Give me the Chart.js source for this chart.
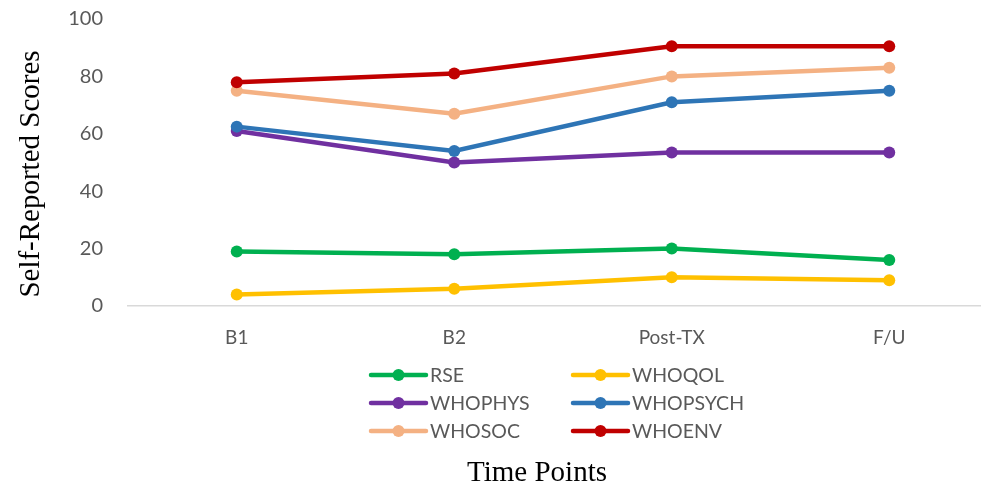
<!DOCTYPE html>
<html>
<head>
<meta charset="utf-8">
<script src="https://cdn.jsdelivr.net/npm/chart.js@4"></script>
<style>
    html, body { margin: 0; padding: 0; background: #fff; overflow: hidden; }
    #wrap { width: 1004px; height: 491px; }
</style>
</head>
<body>
<div id="wrap"><canvas id="scoresChart"></canvas></div>
<script>
// Data
const timePoints = ["B1", "B2", "Post-TX", "F/U"];
const yTicks = [0, 20, 40, 60, 80, 100];

const rse      = [19, 18, 20, 16];
const whoqol   = [4, 6, 10, 9];
const whophys  = [61, 50, 53.5, 53.5];
const whopsych = [62.5, 54, 71, 75];
const whosoc   = [75, 67, 80, 83];
const whoenv   = [78, 81, 90.5, 90.5];

const seriesNames = ["RSE", "WHOQOL", "WHOPHYS", "WHOPSYCH", "WHOSOC", "WHOENV"];
const seriesData = [rse, whoqol, whophys, whopsych, whosoc, whoenv];
const seriesColors = ["#00B050", "#FFC000", "#7030A0", "#2E75B6", "#F4B183", "#C00000"];

const textGray = "#595959";
const sansFont = "Lato, 'Liberation Sans', sans-serif";
const serifFont = "'Liberation Serif', 'DejaVu Serif', serif";

// axis titles + two column legend, drawn on the canvas
const extrasPlugin = {
    id: "extras",
    afterDraw(chart) {
        const ctx = chart.ctx;
        ctx.save();

        // y title
        ctx.fillStyle = "#000";
        ctx.font = "29px " + serifFont;
        ctx.textAlign = "center";
        ctx.textBaseline = "middle";
        ctx.translate(31, 174);
        ctx.rotate(-Math.PI / 2);
        ctx.fillText("Self-Reported Scores", 0, 0);
        ctx.setTransform(1, 0, 0, 1, 0, 0);

        // x title
        ctx.fillText("Time Points", 537, 473);

        // legend
        const colX = [371, 573];
        const rowY = [375, 403, 431];
        ctx.font = "19.5px " + sansFont;
        ctx.textAlign = "left";
        chart.data.datasets.forEach((ds, i) => {
            const x = colX[i % 2];
            const y = rowY[Math.floor(i / 2)];
            ctx.strokeStyle = ds.borderColor;
            ctx.lineWidth = 4.5;
            ctx.lineCap = "round";
            ctx.beginPath();
            ctx.moveTo(x, y);
            ctx.lineTo(x + 55, y);
            ctx.stroke();
            ctx.fillStyle = ds.borderColor;
            ctx.beginPath();
            ctx.arc(x + 27.5, y, 6, 0, Math.PI * 2);
            ctx.fill();
            ctx.fillStyle = textGray;
            ctx.fillText(ds.label, x + 59, y + 1);
        });
        ctx.restore();
    }
};

const datasets = seriesNames.map((name, i) => ({
    label: name,
    data: seriesData[i],
    borderColor: seriesColors[i],
    backgroundColor: seriesColors[i],
    borderWidth: 4.5,
    pointRadius: 6,
    pointBorderWidth: 0,
    pointHoverRadius: 6,
    tension: 0,
    order: seriesNames.length - i
}));

new Chart(document.getElementById("scoresChart"), {
    type: "line",
    data: { labels: timePoints, datasets: datasets },
    options: {
        responsive: true,
        maintainAspectRatio: false,
        animation: false,
        layout: { padding: { top: 19, left: 0, right: 0, bottom: 0 } },
        plugins: {
            legend: { display: false },
            tooltip: { enabled: false }
        },
        scales: {
            x: {
                offset: true,
                grid: { display: false },
                border: { display: true, color: "#D9D9D9", width: 1.5 },
                ticks: {
                    color: textGray,
                    font: { family: sansFont, size: 19 },
                    padding: 12,
                    maxRotation: 0
                },
                afterFit(scale) {
                    scale.height = 185;
                    scale.paddingLeft = 0;
                    scale.paddingRight = 0;
                }
            },
            y: {
                min: yTicks[0],
                max: yTicks[yTicks.length - 1],
                afterBuildTicks(scale) { scale.ticks = yTicks.map(v => ({ value: v })); },
                grid: { display: false },
                border: { display: false },
                ticks: {
                    color: textGray,
                    font: { family: sansFont, size: 20 },
                    padding: 17
                },
                afterFit(scale) {
                    scale.width = 128;
                    scale.paddingTop = 0;
                    scale.paddingBottom = 0;
                }
            }
        }
    },
    plugins: [extrasPlugin]
});
</script>
</body>
</html>
